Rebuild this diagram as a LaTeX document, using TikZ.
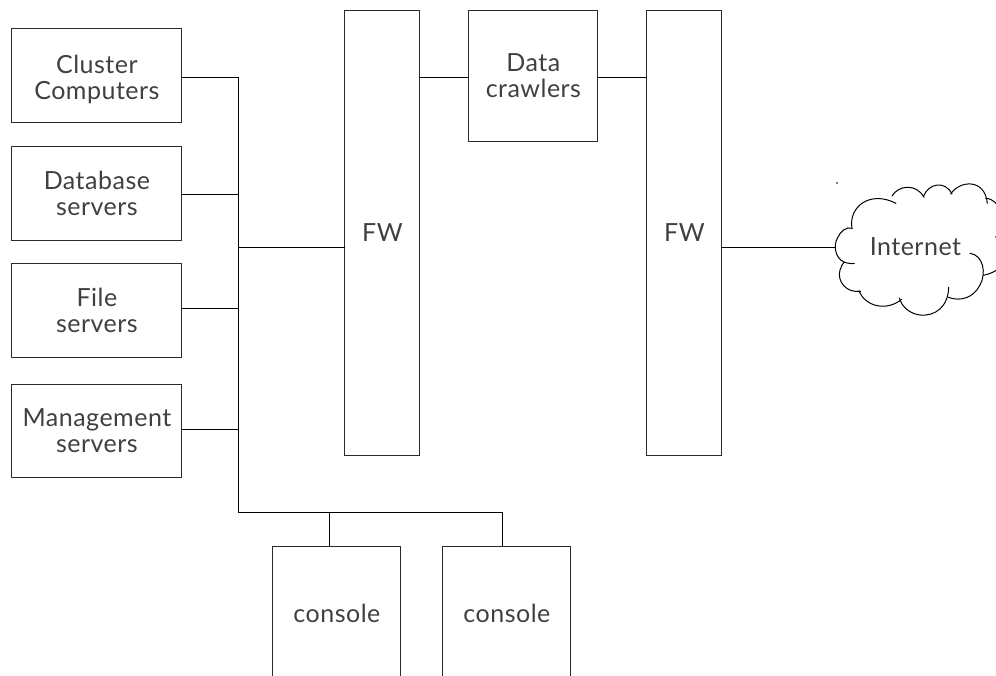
\documentclass[tikz,border=0pt]{standalone}
\usepackage{fontspec}
\setmainfont[LetterSpace=2]{Lato}
\definecolor{ink}{HTML}{404040}
\definecolor{edge}{HTML}{2A2A2A}
\tikzset{
  boxn/.style={draw=edge,line width=1pt,rectangle,inner sep=0pt,align=center,text=ink,font=\fontsize{25}{26}\selectfont},
  wire/.style={draw=black,line width=1pt,line cap=rect},
  lobe/.style={draw=black,line width=1pt,line cap=round}
}
\begin{document}
\begin{tikzpicture}[x=1pt,y=-1pt]
\clip (0,0) rectangle (996,675);
\begin{scope}[shift={(-0.1,0.2)}]
\node[boxn,minimum width=170pt,minimum height=94pt] (cluster) at (97,75) {\rule{0pt}{26pt}Cluster\\Computers};
\node[boxn,minimum width=170pt,minimum height=94pt] (database) at (97,193) {Database\\servers};
\node[boxn,minimum width=170pt,minimum height=94pt] (file) at (97,310) {File\\servers};
\node[boxn,minimum width=170pt,minimum height=93pt] (mgmt) at (97,430.5) {Management\\servers};
\node[boxn,minimum width=75pt,minimum height=445pt] (fwa) at (382.5,232.5) {FW};
\node[boxn,minimum width=129pt,minimum height=131pt] (crawl) at (533.5,75.5) {Data\\crawlers};
\node[boxn,minimum width=75pt,minimum height=445pt] (fwb) at (684.5,232.5) {FW};
\node[boxn,minimum width=128pt,minimum height=134pt] (cona) at (337,613) {console};
\node[boxn,minimum width=128pt,minimum height=134pt] (conb) at (507,613) {console};
\node[text=ink,font=\fontsize{25}{26}\selectfont,inner sep=0pt] (net) at (915.5,246.5) {Internet};
% bus
\coordinate (b1) at (239,77);
\coordinate (b2) at (239,194);
\coordinate (b3) at (239,247);
\coordinate (b4) at (239,308);
\coordinate (b5) at (239,429);
\coordinate (b6) at (239,512);
\coordinate (d1) at (330,512);
\coordinate (d2) at (503,512);
\coordinate (cloudw) at (836,247);
\draw[wire] (cluster.east |- b1) -- (b1) -- (b6) -- (d2);
\draw[wire] (database.east |- b2) -- (b2);
\draw[wire] (file.east |- b4) -- (b4);
\draw[wire] (mgmt.east |- b5) -- (b5);
\draw[wire] (b3) -- (fwa.west |- b3);
\draw[wire] (d1) -- (d1 |- cona.north);
\draw[wire] (d2) -- (d2 |- conb.north);
\draw[wire] (fwa.east |- 0,77) -- (crawl.west |- 0,77);
\draw[wire] (crawl.east |- 0,77) -- (fwb.west |- 0,77);
\draw[wire] (fwb.east |- cloudw) -- (cloudw);
\end{scope}
% cloud
\begin{scope}[shift={(820,170)},x=0.3333pt,y=-0.3333pt]
\draw[lobe] (96,175) .. controls (85,110) and (150,60) .. (228,100);
\draw[lobe] (216,78) .. controls (235,45) and (290,40) .. (312,82);
\draw[lobe] (310,80) .. controls (325,40) and (375,30) .. (396,72);
\draw[lobe] (392,72) .. controls (420,30) and (495,25) .. (502,100);
\draw[lobe] (497,85) .. controls (510,85) and (520,92) .. (530,102);
\draw[lobe] (530,300) .. controls (515,310) and (503,313) .. (490,316);
\draw[lobe] (450,250) .. controls (490,255) and (500,310) .. (480,345) .. controls (460,385) and (420,395) .. (385,382);
\draw[lobe] (386,352) .. controls (385,410) and (345,440) .. (300,435) .. controls (270,432) and (245,410) .. (238,384);
\draw[lobe] (245,388) .. controls (200,425) and (135,410) .. (117,362);
\draw[lobe] (122,364) .. controls (80,370) and (50,335) .. (60,300) .. controls (63,290) and (68,282) .. (72,276) .. controls (82,280) and (95,282) .. (103,280);
\draw[lobe] (72,276) .. controls (45,265) and (40,225) .. (52,205) .. controls (60,185) and (80,168) .. (96,175);
\end{scope}
\fill[black] (837,183) circle (0.8pt);
\fill[black] (995.5,237) circle (0.6pt);
\end{tikzpicture}
\end{document}
